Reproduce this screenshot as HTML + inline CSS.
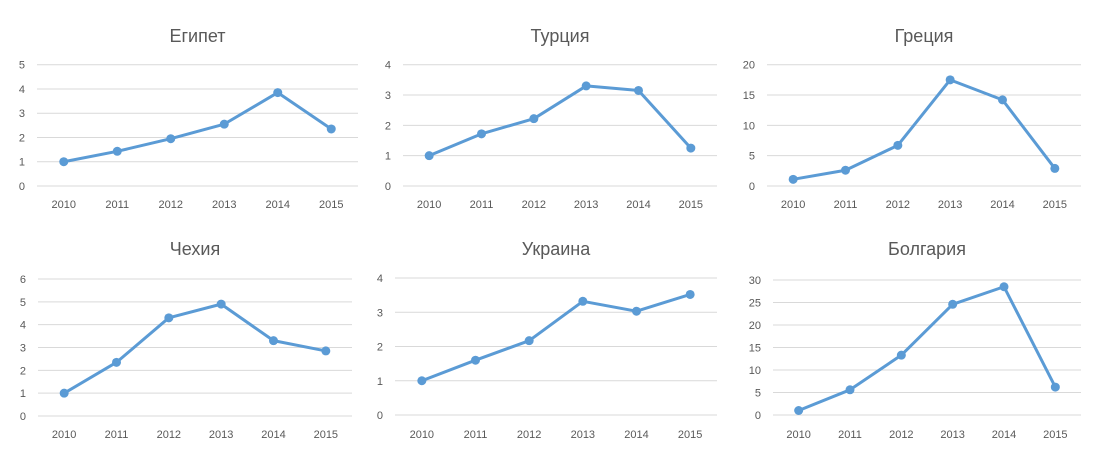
<!DOCTYPE html>
<html><head><meta charset="utf-8"><style>
body{margin:0;background:#fff;width:1102px;height:459px;overflow:hidden;font-family:"Liberation Sans",sans-serif;}
svg text{font-family:"Liberation Sans","DejaVu Sans",sans-serif;}
</style></head><body>
<svg id="c" width="1102" height="459"></svg>
<script>
const years = ["2010","2011","2012","2013","2014","2015"];
const egyptValues = [1.0, 1.43, 1.95, 2.55, 3.85, 2.35];
const turkeyValues = [1.0, 1.72, 2.22, 3.3, 3.15, 1.25];
const greeceValues = [1.1, 2.6, 6.7, 17.5, 14.2, 2.9];
const czechValues = [1.0, 2.35, 4.3, 4.9, 3.3, 2.85];
const ukraineValues = [1.0, 1.6, 2.17, 3.32, 3.03, 3.52];
const bulgariaValues = [1.0, 5.6, 13.3, 24.6, 28.5, 6.2];
const egyptTicks = [0,1,2,3,4,5];
const turkeyTicks = [0,1,2,3,4];
const greeceTicks = [0,5,10,15,20];
const czechTicks = [0,1,2,3,4,5,6];
const ukraineTicks = [0,1,2,3,4];
const bulgariaTicks = [0,5,10,15,20,25,30];

const NS="http://www.w3.org/2000/svg";
const svg=document.getElementById('c');
function mk(tag,attrs,parent){const e=document.createElementNS(NS,tag);for(const k in attrs)e.setAttribute(k,attrs[k]);parent.appendChild(e);return e;}
function panel(id,title,values,ticks,x0,x1,yTop,yBot,titleY,labelY){
  const g=mk('g',{},svg);
  
  
  const t=mk('text',{x:(x0+x1)/2,y:titleY,'text-anchor':'middle','font-size':18,fill:'#595959'},g);
  t.textContent=title;
  
  
  const max=ticks[ticks.length-1];
  const ys=v=>yBot-(v/max)*(yBot-yTop);
  const bw=(x1-x0)/years.length;
  const xs=i=>x0+bw*(i+0.5);
  ticks.forEach(tv=>{
    const l=mk('line',{x1:x0,x2:x1,y1:ys(tv),y2:ys(tv),stroke:'#d9d9d9','stroke-width':1},g);
    
    
    const tl=mk('text',{x:x0-12,y:ys(tv)+4,'text-anchor':'end','font-size':11,fill:'#595959'},g);
    tl.textContent=tv;
    
    
  });
  years.forEach((yr,i)=>{
    const xl=mk('text',{x:xs(i),y:labelY,'text-anchor':'middle','font-size':11,fill:'#595959'},g);
    xl.textContent=yr;
    
    
  });
  const pts=values.map((v,i)=>xs(i)+','+ys(v)).join(' ');
  const pl=mk('polyline',{points:pts,fill:'none',stroke:'#5b9bd5','stroke-width':3,'stroke-linejoin':'round'},g);
  
  
  values.forEach((v,i)=>{
    const c=mk('circle',{cx:xs(i),cy:ys(v),r:4.5,fill:'#5b9bd5'},g);
    
    
  });
}
panel('egypt','Египет',egyptValues,egyptTicks,37,358,64.7,186,42,208);
panel('turkey','Турция',turkeyValues,turkeyTicks,403,717,64.7,186,42,208);
panel('greece','Греция',greeceValues,greeceTicks,767,1081,64.7,186,42,208);
panel('czech','Чехия',czechValues,czechTicks,38,352,279,416,255,438);
panel('ukraine','Украина',ukraineValues,ukraineTicks,395,717,278,415,255,438);
panel('bulgaria','Болгария',bulgariaValues,bulgariaTicks,773,1081,280,415,255,438);
</script>
</body></html>
